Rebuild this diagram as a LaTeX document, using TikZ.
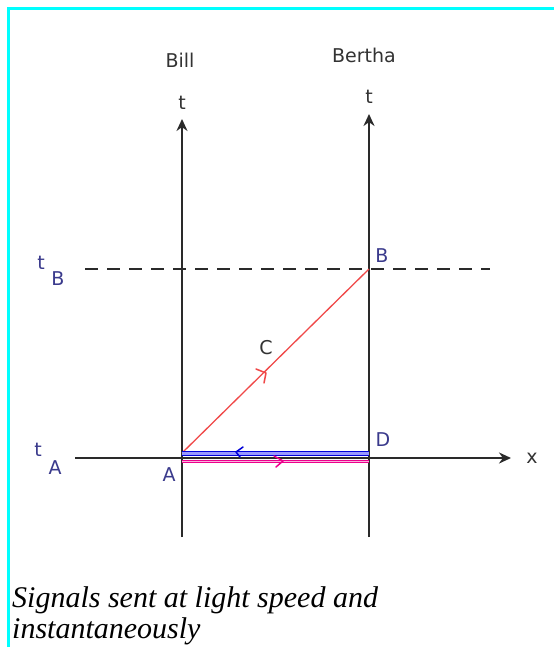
\documentclass[tikz,border=0pt]{standalone}
\usepackage{fontspec}
\setmainfont{Liberation Serif}
\newfontfamily\lblfont{DejaVu Sans}
\usetikzlibrary{arrows.meta}
\definecolor{lblblue}{HTML}{3A3A8C}
\definecolor{axisgray}{HTML}{2A2A2A}
\definecolor{frame}{HTML}{00FFFF}
\definecolor{redline}{HTML}{F04848}
\tikzset{
  axis/.style={draw=axisgray, line width=2.2pt},
  axisarrow/.style={axis, -{Stealth[length=12pt,width=11pt]}},
  lbl/.style={font=\lblfont\fontsize{19}{19}\selectfont, text=black!80, inner sep=0pt},
  bluelbl/.style={font=\lblfont\fontsize{19}{19}\selectfont, text=lblblue, inner sep=0pt},
  chev/.style={line width=1.5pt, line cap=round, line join=round}
}
\begin{document}
\begin{tikzpicture}[x=1pt,y=-1pt]
\useasboundingbox (0,0) rectangle (554,647);
\fill[white] (0,0) rectangle (554,647);
% frame
\draw[frame, line width=3pt] (8.5,647) -- (8.5,8.5) -- (554,8.5);
% coordinates
\coordinate (A) at (182,453);
\coordinate (B) at (369,269);
\coordinate (D) at (369,453);
% axes
\coordinate (billbot) at (182,537);
\coordinate (billtop) at (182,119);
\coordinate (berbot) at (369,537);
\coordinate (bertop) at (369,114);
\coordinate (xl) at (75,458);
\coordinate (xr) at (511,458);
\coordinate (tbl) at (85,269);
\coordinate (tbr) at (490,269);
\draw[axis, dash pattern=on 13pt off 9pt] (tbl) -- (tbr);
\draw[axisarrow] (xl) -- (xr);
\draw[axisarrow] (billbot) -- (billtop);
\draw[axisarrow] (berbot) -- (bertop);
% red light signal
\draw[redline, line width=1.3pt] (A) -- (B);
\draw[redline, chev] (256,369) -- (266,373) -- (264,383);
% blue and magenta instantaneous signals
\coordinate (bl) at (182,453.5);
\coordinate (br) at (369,453.5);
\coordinate (ml) at (182,461.5);
\coordinate (mr) at (369,461.5);
\draw[draw=blue!85!black, line width=1.3pt, double=blue!40, double distance=2.4pt] (bl) -- (br);
\draw[draw=magenta, line width=1.2pt, double=magenta!30, double distance=1.2pt] (ml) -- (mr);
\draw[blue!85!black, chev] (243,447) -- (236,452) -- (240,457);
\draw[magenta, chev] (274,456) -- (283,461) -- (276,467);
% labels
\node[lbl] (bill) at (180,60) {Bill};
\node[lbl] (bertha) at (364,55) {Bertha};
\node[lbl] (t1) at (182,103) {t};
\node[lbl] (t2) at (369,97) {t};
\node[lbl] (xlbl) at (532,458) {x};
\node[lbl] (clbl) at (266,348) {C};
\node[bluelbl] (blbl) at (382,256) {B};
\node[bluelbl] (dlbl) at (383,440) {D};
\node[bluelbl] (albl) at (169,475) {A};
\node[bluelbl] (tB) at (41,263) {t};
\node[bluelbl] (tBs) at (58,279) {B};
\node[bluelbl] (tA) at (38,450) {t};
\node[bluelbl] (tAs) at (55,468) {A};
% caption
\node[anchor=base west, inner sep=0pt, font=\itshape\fontsize{30}{32}\selectfont] (cap1) at (12,607) {Signals sent at light speed and};
\node[anchor=base west, inner sep=0pt, font=\itshape\fontsize{30}{32}\selectfont] (cap2) at (12,638) {instantaneously};
\end{tikzpicture}
\end{document}
